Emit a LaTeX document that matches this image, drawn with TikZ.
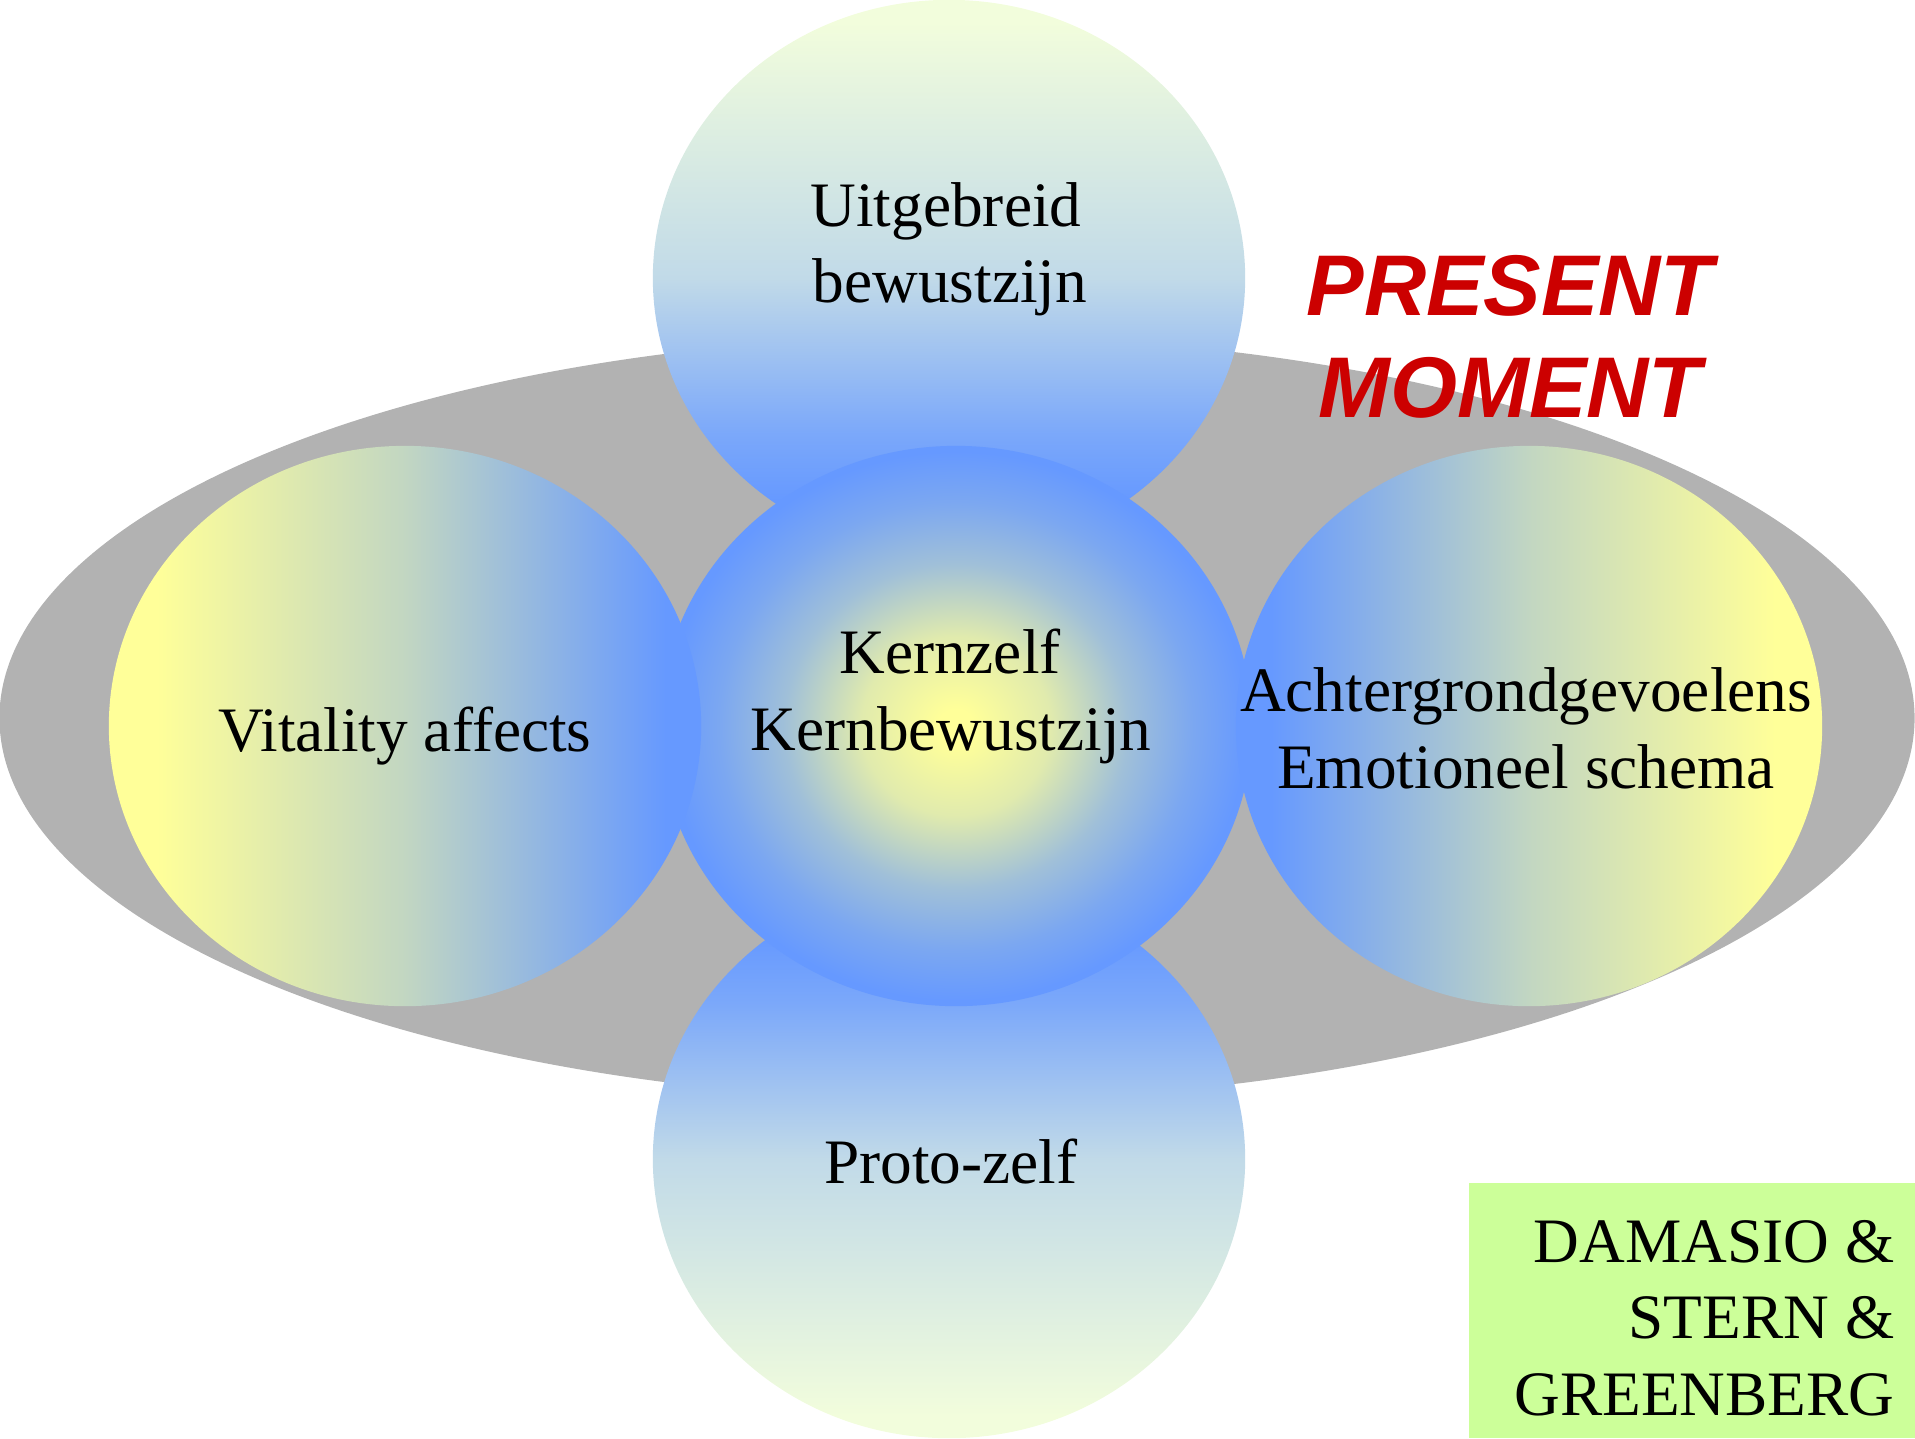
\documentclass[tikz,border=0pt]{standalone}
\usepackage{fontspec}
\setmainfont{Liberation Serif}
\newfontfamily\pmfont{Liberation Sans}
\usetikzlibrary{shapes.geometric}
\definecolor{cblue}{RGB}{102,153,255}
\definecolor{cyel}{RGB}{255,255,153}
\definecolor{cpale}{RGB}{242,253,220}
\definecolor{cgray}{RGB}{178,178,178}
\definecolor{cgreen}{RGB}{204,255,153}
\definecolor{cred}{RGB}{204,0,0}
\colorlet{pbA}{cblue!35!cpale}
\colorlet{pbB}{cblue!85!cpale}
\colorlet{ybA}{cblue!40!cyel}
\colorlet{rA}{cblue!20!cyel}
\colorlet{rB}{cblue!62!cyel}
\colorlet{rC}{cblue!86!cyel}
\pgfdeclareverticalshading{topshade}{100bp}{color(0bp)=(cblue); color(30bp)=(cblue); color(36bp)=(pbB); color(50bp)=(pbA); color(73bp)=(cpale); color(100bp)=(cpale)}
\pgfdeclareverticalshading{botshade}{100bp}{color(0bp)=(cpale); color(27bp)=(cpale); color(50bp)=(pbA); color(64bp)=(pbB); color(70bp)=(cblue); color(100bp)=(cblue)}
\pgfdeclarehorizontalshading{yb}{100bp}{color(0bp)=(cyel); color(29bp)=(cyel); color(50bp)=(ybA); color(72bp)=(cblue); color(100bp)=(cblue)}
\pgfdeclarehorizontalshading{by}{100bp}{color(0bp)=(cblue); color(28bp)=(cblue); color(50bp)=(ybA); color(71bp)=(cyel); color(100bp)=(cyel)}
\pgfdeclareradialshading{kern}{\pgfpoint{0bp}{0bp}}{color(0bp)=(cyel); color(1.5bp)=(cyel); color(8bp)=(rA); color(14.5bp)=(rB); color(20bp)=(rC); color(24.5bp)=(cblue); color(50bp)=(cblue)}
\tikzset{
  blob/.style={ellipse, draw=none, inner sep=0pt, outer sep=0pt},
  lbl/.style={font=\fontsize{18}{21.6}\selectfont, inner sep=0pt, anchor=base},
  pm/.style={font=\pmfont\bfseries\itshape\fontsize{24.5}{29}\selectfont, text=cred, inner sep=0pt, anchor=base},
}
\begin{document}
\begin{tikzpicture}[x=0.01cm,y=-0.01cm]
\useasboundingbox (0,0) rectangle (1915,1438);
\node[blob, fill=cgray, minimum width=19.14cm, minimum height=7.64cm] (moment) at (957,718) {};
\node[blob, shading=topshade, minimum width=5.92cm, minimum height=5.56cm] (top) at (949,278) {};
\node[blob, shading=botshade, minimum width=5.92cm, minimum height=5.58cm] (bottom) at (949,1159) {};
\node[blob, shading=kern, minimum width=5.92cm, minimum height=5.6cm] (core) at (956,726) {};
\node[blob, shading=yb, minimum width=5.92cm, minimum height=5.6cm] (left) at (405,726) {};
\node[blob, shading=by, minimum width=5.86cm, minimum height=5.6cm] (right) at (1529,726) {};
\node[fill=cgreen, inner sep=0pt, outer sep=0pt, anchor=north west, minimum width=4.46cm, minimum height=2.55cm] (refbox) at (1469,1183) {};
% texts
\node[lbl] (t1) at (946,226) {Uitgebreid};
\node[lbl] (t2) at (950,302) {bewustzijn};
\node[lbl] (c1) at (950,673) {Kernzelf};
\node[lbl] (c2) at (951,750) {Kernbewustzijn};
\node[lbl] (l1) at (405,751) {Vitality affects};
\node[lbl] (r1) at (1526,711) {Achtergrondgevoelens};
\node[lbl] (r2) at (1526,788) {Emotioneel schema};
\node[lbl] (b1) at (951,1183) {Proto-zelf};
\node[pm] (p1) at (1510,315) {PRESENT};
\node[pm] (p2) at (1510,417) {MOMENT};
\node[lbl, anchor=base east] (d1) at (1895,1262) {DAMASIO \&};
\node[lbl, anchor=base east] (d2) at (1895,1338) {STERN \&};
\node[lbl, anchor=base east] (d3) at (1895,1415) {GREENBERG};
\end{tikzpicture}
\end{document}
